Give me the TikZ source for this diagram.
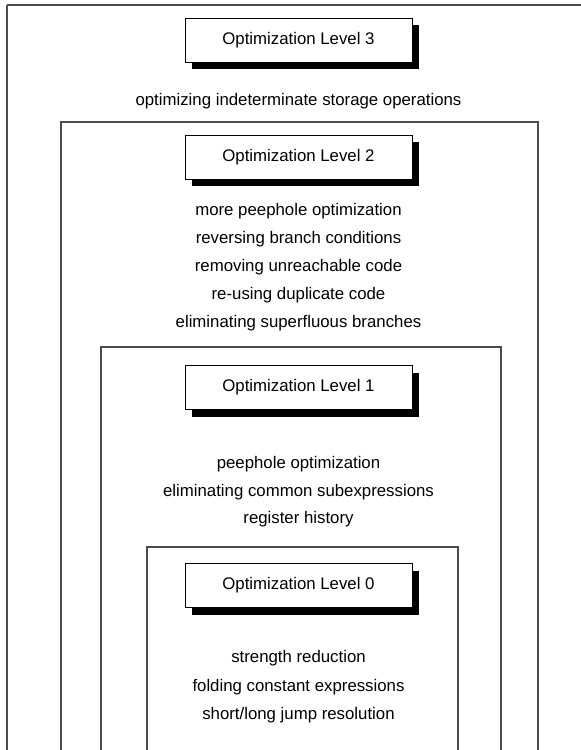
\documentclass[tikz,border=0pt]{standalone}
\usepackage{fontspec}
\setmainfont{Liberation Sans}
\usetikzlibrary{shadows}
\begin{document}
\begin{tikzpicture}[x=1pt,y=-1pt,
  frame/.style={draw=black!70, line width=1.6pt},
  levelbox/.style={draw=black, line width=0.8pt, fill=white,
    minimum width=227pt, minimum height=44pt, inner sep=0pt,
    font=\fontsize{16.8}{20}\selectfont,
    drop shadow={shadow xshift=7pt, shadow yshift=-7pt, fill=black, opacity=1}},
  item/.style={font=\fontsize{16.8}{20}\selectfont, inner sep=0pt,
    text height=12pt, text depth=3.5pt}]
\useasboundingbox (0,0) rectangle (581,750);

% nested scope frames, open at the bottom
\draw[frame] (7,750) -- (7,5);
\draw[frame] (7,5) -- (581,5);
\draw[frame] (61,750) -- (61,122) -- (538,122) -- (538,750);
\draw[frame] (101,750) -- (101,347) -- (501,347) -- (501,750);
\draw[frame] (147,750) -- (147,547) -- (458,547) -- (458,750);

% level 3
\node[levelbox] (l3) at (298.5,40) {Optimization Level 3};
\node[item] (l3a) at (298.5,101) {optimizing indeterminate storage operations};

% level 2
\node[levelbox] (l2) at (298.5,157) {Optimization Level 2};
\node[item] (l2a) at (298.5,211) {more peephole optimization};
\node[item] (l2b) at (298.5,239) {reversing branch conditions};
\node[item] (l2c) at (298.5,267) {removing unreachable code};
\node[item] (l2d) at (298.5,295) {re-using duplicate code};
\node[item] (l2e) at (298.5,323) {eliminating superfluous branches};

% level 1
\node[levelbox] (l1) at (298.5,387.5) {Optimization Level 1};
\node[item] (l1a) at (298.5,464) {peephole optimization};
\node[item] (l1b) at (298.5,492) {eliminating common subexpressions};
\node[item] (l1c) at (298.5,519) {register history};

% level 0
\node[levelbox] (l0) at (298.5,585.5) {Optimization Level 0};
\node[item] (l0a) at (298.5,658) {strength reduction};
\node[item] (l0b) at (298.5,687) {folding constant expressions};
\node[item] (l0c) at (298.5,715) {short/long jump resolution};
\end{tikzpicture}
\end{document}
